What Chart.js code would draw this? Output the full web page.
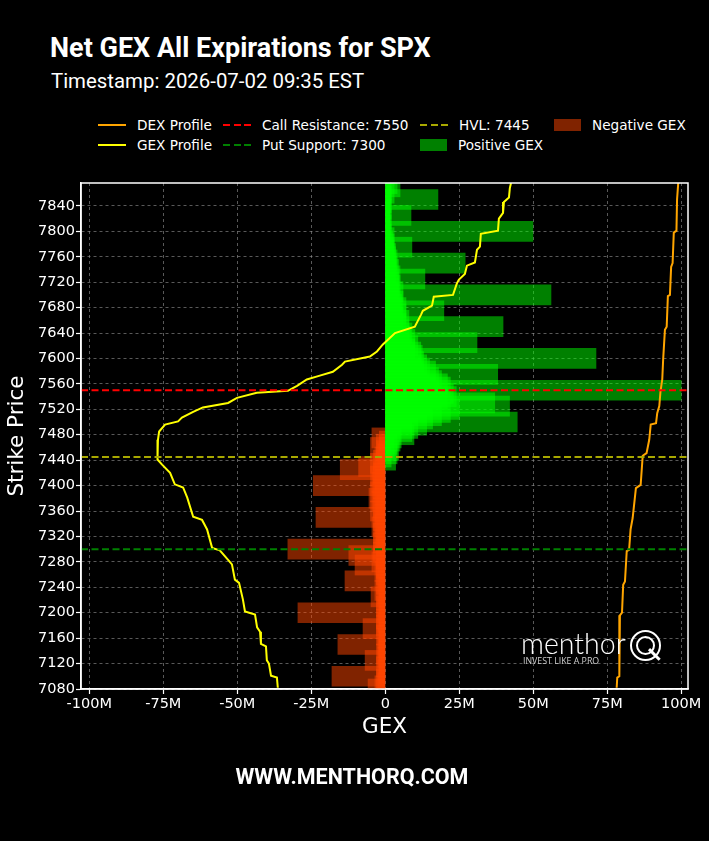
<!DOCTYPE html>
<html>
<head>
<meta charset="utf-8">
<script src="https://cdn.jsdelivr.net/npm/chart.js@4.4.1/dist/chart.umd.min.js"></script>
<style>
  body { margin: 0; background: #000; width: 709px; height: 841px; overflow: hidden; position: relative; color: #fff; font-family: "DejaVu Sans", sans-serif; }
  .title { position: absolute; left: 50px; top: 31px; font-family: Roboto, sans-serif; font-weight: 700; font-size: 27px; line-height: 34px; }
  .subtitle { position: absolute; left: 51px; top: 68px; font-family: Roboto, sans-serif; font-size: 20.4px; line-height: 26px; }
  .legend { position: absolute; left: 98px; top: 115px; display: grid; grid-template-columns: 125px 197px 134px auto; grid-template-rows: 20px 20px; grid-auto-flow: column; font-size: 13.6px; }
  .item { display: flex; align-items: center; white-space: nowrap; }
  .sample { width: 28px; height: 2px; margin-right: 11px; }
  .swatch { width: 27px; height: 12px; margin-right: 11px; }
  #wrap { position: absolute; left: 0; top: 170px; width: 709px; height: 600px; }
  .footer { position: absolute; left: 0; top: 764px; width: 704px; text-align: center; font-family: Roboto, sans-serif; font-weight: 700; font-size: 21.5px; line-height: 26px; }
  .logo { position: absolute; left: 521px; top: 628px; }
  .logo .word { font-family: Lato, "Open Sans", sans-serif; font-weight: 300; font-size: 28.5px; line-height: 30px; }
  .logo .tag { font-family: "Open Sans", sans-serif; font-size: 8.8px; line-height: 10px; color: #ccc; margin-top: -2px; margin-left: 2px; }
  .logo .q { position: absolute; left: 109px; top: 2px; width: 27px; height: 27px; border: 2px solid #fff; border-radius: 50%; }
  .logo .q::before { content: ""; position: absolute; left: 4px; top: 4px; width: 15px; height: 15px; border: 2px solid #fff; border-radius: 50%; }
  .logo .q::after { content: ""; position: absolute; left: 15px; top: 21px; width: 15px; height: 2.5px; background: #fff; transform: rotate(45deg); }
</style>
</head>
<body>
<div class="title">Net GEX All Expirations for SPX</div>
<div class="subtitle">Timestamp: 2026-07-02 09:35 EST</div>
<div class="legend" id="legend"></div>
<div id="wrap"><canvas id="gex-chart"></canvas></div>
<div class="logo"><div class="word">menthor</div><div class="tag">INVEST LIKE A PRO</div><div class="q"></div></div>
<div class="footer">WWW.MENTHORQ.COM</div>
<script>
// Axis ticks
const yTicks = [7080, 7120, 7160, 7200, 7240, 7280, 7320, 7360, 7400, 7440, 7480,
    7520, 7560, 7600, 7640, 7680, 7720, 7760, 7800, 7840];
const xTicks = [-100, -75, -50, -25, 0, 25, 50, 75, 100];

// Positive GEX per strike (millions)
const posStrikes = [
    7875, 7870, 7865, 7860, 7855, 7850, 7845, 7840, 7835, 7830,
    7825, 7820, 7815, 7810, 7805, 7800, 7795, 7790, 7785, 7780,
    7775, 7770, 7765, 7760, 7755, 7750, 7745, 7740, 7735, 7730,
    7725, 7720, 7715, 7710, 7705, 7700, 7695, 7690, 7685, 7680,
    7675, 7670, 7665, 7660, 7655, 7650, 7645, 7640, 7635, 7630,
    7625, 7620, 7615, 7610, 7605, 7600, 7595, 7590, 7585, 7580,
    7575, 7570, 7565, 7560, 7555, 7550, 7545, 7540, 7535, 7530,
    7525, 7520, 7515, 7510, 7505, 7500, 7495, 7490, 7485, 7480,
    7475, 7470, 7465, 7460, 7455, 7450, 7445, 7440];
const posGex = [
    4, 5, 2, 3, 2, 17.8, 2, 1.5, 2, 1.5,
    8.7, 2, 1.5, 2, 1.5, 49.9, 2, 3, 2.5, 3,
    9, 3, 3.5, 3.5, 4, 27, 4, 4.5, 3.5, 5,
    13.4, 4.5, 5, 4.5, 6, 56, 5, 6, 5.5, 7,
    19.8, 7, 6, 8, 7, 39.8, 8, 9, 8.5, 10,
    31, 11, 10, 12, 12.5, 71.2, 13, 14, 15, 17,
    38, 18, 19, 21, 22, 100, 23, 24, 21, 37,
    42, 25, 22, 19, 16, 44.6, 14, 11, 9, 9.7,
    5.4, 5, 4, 3, 4.5, 4, 2, 3.5];

// Negative GEX per strike (millions)
const negStrikes = [
    7475, 7470, 7465, 7460, 7455, 7450, 7445, 7440, 7435, 7430,
    7425, 7420, 7415, 7410, 7405, 7400, 7395, 7390, 7385, 7380,
    7375, 7370, 7365, 7360, 7355, 7350, 7345, 7340, 7335, 7330,
    7325, 7320, 7315, 7310, 7305, 7300, 7295, 7290, 7285, 7280,
    7275, 7270, 7265, 7260, 7255, 7250, 7245, 7240, 7235, 7230,
    7225, 7220, 7215, 7210, 7205, 7200, 7195, 7190, 7185, 7180,
    7175, 7170, 7165, 7160, 7155, 7150, 7145, 7140, 7135, 7130,
    7125, 7120, 7115, 7110, 7105, 7100, 7095, 7090, 7085, 7080];
const negGex = [
    -4.5, -2, -3, -5, -3, -2.5, -3.5, -4, -5, -9,
    -15.2, -4, -5, -3.5, -4.5, -24.3, -4, -5, -3.5, -5.5,
    -4.5, -3, -4, -5, -3.5, -23.4, -4, -3.5, -4.5, -3,
    -4, -2.5, -3.5, -4, -3, -32.9, -4, -12.3, -3, -4.5,
    -10.2, -3, -3.5, -3, -2.5, -13.6, -3, -2, -3.5, -2.5,
    -4.8, -3, -2, -3, -2.5, -29.5, -2, -3, -2.5, -3,
    -7.5, -2, -3, -2.5, -2, -16, -2.5, -2, -3, -2.5,
    -6.8, -2, -3, -2.5, -2, -18, -3, -2.5, -3.5, -5.8];

// GEX profile
const gexStrikes = [7876, 7868, 7853, 7846, 7829, 7820, 7801, 7796, 7776, 7771,
    7751, 7746, 7733, 7724, 7718, 7700, 7697, 7683, 7675, 7669,
    7650, 7640, 7622, 7611, 7603, 7595, 7590, 7579, 7573, 7567,
    7557, 7549, 7546, 7538, 7530, 7523, 7516, 7507, 7501, 7496,
    7485, 7472, 7452, 7441, 7433, 7420, 7402, 7397, 7381, 7351,
    7346, 7331, 7302, 7298, 7283, 7276, 7252, 7247, 7221, 7202,
    7197, 7177, 7170, 7151, 7147, 7125, 7120, 7101, 7098, 7082];
const gexProfile = [42.5, 42.1, 41.8, 40.1, 39.8, 38.4, 38.1, 32.3, 32.0, 31.0,
    30.3, 27.6, 26.9, 24.9, 24.2, 22.9, 16.4, 15.8, 12.7, 12.1,
    10.0, 3.3, -0.8, -2.8, -5.2, -13.6, -14.6, -17.7, -22.1, -26.5,
    -29.8, -32.9, -43.4, -50.1, -53.1, -61.6, -64.9, -68.7, -70.0, -74.4,
    -76.4, -76.8, -77.1, -76.8, -75.4, -72.7, -71.1, -68.3, -66.9, -64.9,
    -61.9, -60.2, -58.5, -55.9, -53.1, -51.8, -50.8, -49.4, -48.1, -47.4,
    -44.0, -43.3, -42.3, -42.0, -40.3, -40.0, -39.3, -38.6, -36.6, -36.3];

// DEX profile
const dexStrikes = [7876, 7850, 7801, 7798, 7750, 7744, 7700, 7698, 7650, 7645,
    7598, 7567, 7548, 7525, 7514, 7498, 7496, 7472, 7451, 7447,
    7401, 7396, 7349, 7331, 7299, 7297, 7249, 7244, 7200, 7196,
    7100, 7098, 7082];
const dexProfile = [99.0, 98.6, 98.4, 97.5, 97.1, 96.6, 96.2, 95.5, 95.1, 94.5,
    93.9, 93.6, 93.0, 92.6, 91.9, 91.5, 89.7, 89.2, 88.3, 87.0,
    86.3, 84.7, 83.6, 82.9, 82.4, 81.6, 81.0, 80.4, 80.0, 79.3,
    79.1, 78.4, 78.2];

// Key levels
const levelNames = ["Call Resistance", "Put Support", "HVL"];
const levelValues = [7550, 7300, 7445];
const levelColors = ["#ff0000", "#008000", "#a8a800"];

const posColor = "rgba(0, 255, 0, 0.5)";
const negColor = "rgba(255, 69, 0, 0.5)";

Chart.defaults.font.family = "'DejaVu Sans', sans-serif";
Chart.defaults.color = "#fff";

// Draws the dashed key levels and the white frame
const levelLines = {
    id: "levelLines",
    afterDatasetsDraw(chart) {
        const { ctx, chartArea, scales } = chart;
        ctx.save();
        ctx.beginPath();
        ctx.rect(chartArea.left, chartArea.top, chartArea.width, chartArea.height);
        ctx.clip();
        levelValues.forEach((v, i) => {
            const y = scales.y.getPixelForValue(v);
            ctx.strokeStyle = levelColors[i];
            ctx.lineWidth = 2;
            ctx.setLineDash([7, 3.5]);
            ctx.beginPath();
            ctx.moveTo(chartArea.left, y);
            ctx.lineTo(chartArea.right, y);
            ctx.stroke();
        });
        ctx.restore();
        ctx.save();
        ctx.strokeStyle = "#fff";
        ctx.lineWidth = 1.5;
        ctx.strokeRect(chartArea.left, chartArea.top, chartArea.width, chartArea.height);
        ctx.restore();
    }
};

const toPoints = (strikes, values) => strikes.map((s, i) => ({ x: values[i], y: s }));

const chart = new Chart(document.getElementById("gex-chart"), {
    type: "bar",
    data: {
        datasets: [
            {
                type: "line", label: "DEX Profile", data: toPoints(dexStrikes, dexProfile),
                borderColor: "#ffa500", borderWidth: 2, pointRadius: 0, order: 0
            },
            {
                type: "line", label: "GEX Profile", data: toPoints(gexStrikes, gexProfile),
                borderColor: "#ffff00", borderWidth: 2, pointRadius: 0, order: 0
            },
            {
                label: "Positive GEX", data: toPoints(posStrikes, posGex),
                backgroundColor: posColor, barThickness: 20, grouped: false, order: 1
            },
            {
                label: "Negative GEX", data: toPoints(negStrikes, negGex),
                backgroundColor: negColor, barThickness: 20, grouped: false, order: 1
            }
        ]
    },
    options: {
        indexAxis: "y",
        responsive: true,
        maintainAspectRatio: false,
        animation: false,
        layout: { padding: { top: 13, right: 21, left: 0, bottom: 0 } },
        plugins: { legend: { display: false }, tooltip: { enabled: false } },
        scales: {
            x: {
                type: "linear", min: -102.8, max: 102.3,
                afterBuildTicks: (scale) => { scale.ticks = xTicks.map(v => ({ value: v })); },
                afterFit: (scale) => { scale.height = 81; },
                ticks: {
                    color: "#fff", font: { size: 14.5 }, padding: 2, maxRotation: 0,
                    callback: (v) => (v === 0 ? "0" : v + "M")
                },
                grid: { color: "rgba(150,150,150,0.75)", lineWidth: 0.8, tickColor: "#fff", tickLength: 5, tickWidth: 1.2 },
                border: { color: "#fff", width: 1.5, dash: [3, 3] },
                title: { display: true, text: "GEX", color: "#fff", font: { size: 21.5 }, padding: { top: 0, bottom: 30 } }
            },
            y: {
                type: "linear", min: 7080, max: 7876, offset: false,
                afterBuildTicks: (scale) => { scale.ticks = yTicks.map(v => ({ value: v })); },
                afterFit: (scale) => { scale.width = 81; },
                ticks: { color: "#fff", font: { size: 14.5 }, padding: 1, callback: (v) => String(v) },
                grid: { offset: false, color: "rgba(150,150,150,0.75)", lineWidth: 0.8, tickColor: "#fff", tickLength: 5, tickWidth: 1.2 },
                border: { color: "#fff", width: 1.5, dash: [3, 3] },
                title: { display: true, text: "Strike Price", color: "#fff", font: { size: 21.5 }, padding: { top: 5, bottom: 0 } }
            }
        }
    },
    plugins: [levelLines]
});

// Build the legend in matplotlib column order
const legendItems = [
    { label: "DEX Profile", color: "#ffa500", kind: "line" },
    { label: "GEX Profile", color: "#ffff00", kind: "line" },
    { label: levelNames[0] + ": " + levelValues[0], color: levelColors[0], kind: "dash" },
    { label: levelNames[1] + ": " + levelValues[1], color: levelColors[1], kind: "dash" },
    { label: levelNames[2] + ": " + levelValues[2], color: levelColors[2], kind: "dash" },
    { label: "Positive GEX", color: posColor, kind: "box" },
    { label: "Negative GEX", color: negColor, kind: "box" }
];
const legend = document.getElementById("legend");
legendItems.forEach(item => {
    const el = document.createElement("div");
    el.className = "item";
    const mark = document.createElement("span");
    if (item.kind === "box") {
        mark.className = "swatch";
        mark.style.background = item.color;
    } else {
        mark.className = "sample";
        mark.style.background = item.kind === "line" ? item.color
            : `repeating-linear-gradient(90deg, ${item.color} 0 7px, transparent 7px 10.5px)`;
    }
    el.appendChild(mark);
    el.appendChild(document.createTextNode(item.label));
    legend.appendChild(el);
});
</script>
</body>
</html>
